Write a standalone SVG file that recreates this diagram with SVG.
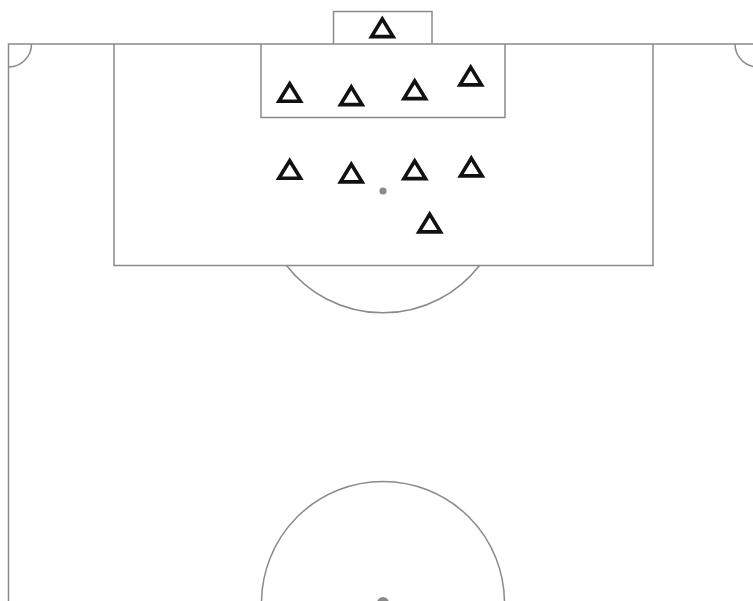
<svg xmlns="http://www.w3.org/2000/svg" xmlns:xlink="http://www.w3.org/1999/xlink" width="753" height="601" viewBox="0 0 753 601">
<style>
.ln{fill:none;stroke:#8a8a8a;stroke-width:1.5}
.dot{fill:#8a8a8a}
.tri{fill:none;stroke:#111;stroke-width:3.6;stroke-linejoin:miter}
</style>
<defs>
<polygon id="t" class="tri" points="0,-9.3 -10.8,8.3 10.8,8.3"/>
</defs>
<rect width="753" height="601" fill="#fff"/>
<g id="pitch">
<path class="ln" d="M8.5,601 V44 H760"/>
<path class="ln" d="M8.5,67 A23,23 0 0 0 31.5,44"/>
<path class="ln" d="M735,44 A23,23 0 0 0 758,67"/>
<path class="ln" d="M333.5,44 V11.5 H432 V44"/>
<path class="ln" d="M114,44 V265.5 H653 V44"/>
<path class="ln" d="M261,44 V117.5 H505 V44"/>
<path class="ln" d="M286.5,265.5 A122,122 0 0 0 479.5,265.5"/>
<circle class="dot" cx="383" cy="191" r="3.6"/>
<circle class="ln" cx="383" cy="603" r="121.5"/>
<circle class="dot" cx="383" cy="603" r="6"/>
</g>
<g id="players">
<g id="gk"><use xlink:href="#t" transform="translate(382.3,28.3)"/></g>
<g id="p1"><use xlink:href="#t" transform="translate(289.7,93)"/></g>
<g id="p2"><use xlink:href="#t" transform="translate(351.3,96.3)"/></g>
<g id="p3"><use xlink:href="#t" transform="translate(414.7,90.3)"/></g>
<g id="p4"><use xlink:href="#t" transform="translate(470.7,76.6)"/></g>
<g id="p5"><use xlink:href="#t" transform="translate(289.7,170)"/></g>
<g id="p6"><use xlink:href="#t" transform="translate(351.3,173.6)"/></g>
<g id="p7"><use xlink:href="#t" transform="translate(414.7,170.3)"/></g>
<g id="p8"><use xlink:href="#t" transform="translate(471.3,167.6)"/></g>
<g id="p9"><use xlink:href="#t" transform="translate(429.7,223.6)"/></g>
</g>
<g id="connectors"/>
</svg>
